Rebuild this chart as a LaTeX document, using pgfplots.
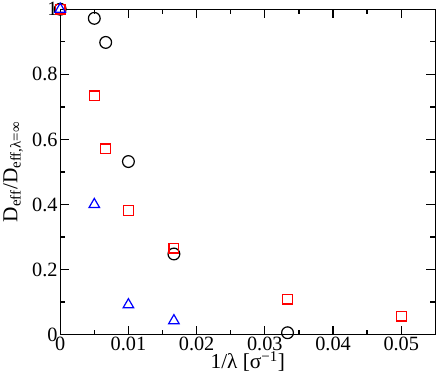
\documentclass[border=0pt]{standalone}
\usepackage{pgfplots}
\pgfplotsset{compat=1.18}
\usepackage{fontspec}
\setmainfont{Liberation Serif}
\definecolor{myred}{RGB}{255,0,0}
\definecolor{myblue}{RGB}{0,0,255}
\begin{document}
\begin{tikzpicture}
\begin{axis}[
  scale only axis,
  width=370pt, height=321pt,
  xmin=0, xmax=0.055, ymin=0, ymax=1,
  scaled x ticks=false, scaled y ticks=false,
  xtick={0,0.01,0.02,0.03,0.04,0.05},
  xticklabels={0,0.01,0.02,0.03,0.04,0.05},
  ytick={0,0.2,0.4,0.6,0.8,1},
  yticklabels={0,0.2,0.4,0.6,0.8,1},
  /pgf/number format/assume math mode=true,
  minor x tick num=1, minor y tick num=1,
  tick align=inside,
  major tick length=9pt, minor tick length=5pt,
  axis line style={line width=1.3pt},
  every tick/.style={line width=1.3pt, black},
  tick label style={font=\fontsize{20}{22}\selectfont},
  xticklabel style={inner sep=2pt},
  yticklabel style={inner sep=2.5pt},
  xlabel={1/λ [σ\textsuperscript{−1}]},
  ylabel={D\textsubscript{eff}/D\textsubscript{eff,λ=∞}},
  label style={font=\fontsize{21}{23}\selectfont},
  xlabel style={yshift=5pt},
  ylabel style={yshift=3pt},
  clip=false,
]
\addplot[only marks, mark=o, mark size=5.8pt, line width=1.2pt, black] coordinates {
(0,1) (0.005,0.972) (0.00667,0.898) (0.01,0.532) (0.01667,0.248) (0.03333,0.006)};
\addplot[only marks, mark=square, mark size=4.8pt, line width=1.2pt, myred, mark options={draw=myred, fill=none}] coordinates {
(0,1) (0.005,0.734) (0.00667,0.571) (0.01,0.381) (0.01667,0.266) (0.03333,0.109) (0.05,0.057)};
\addplot[only marks, mark=triangle, mark size=6pt, line width=1.2pt, myblue, mark options={draw=myblue, fill=none}] coordinates {
(0,1) (0.005,0.400) (0.01,0.092) (0.01667,0.043)};
\end{axis}
\end{tikzpicture}
\end{document}
